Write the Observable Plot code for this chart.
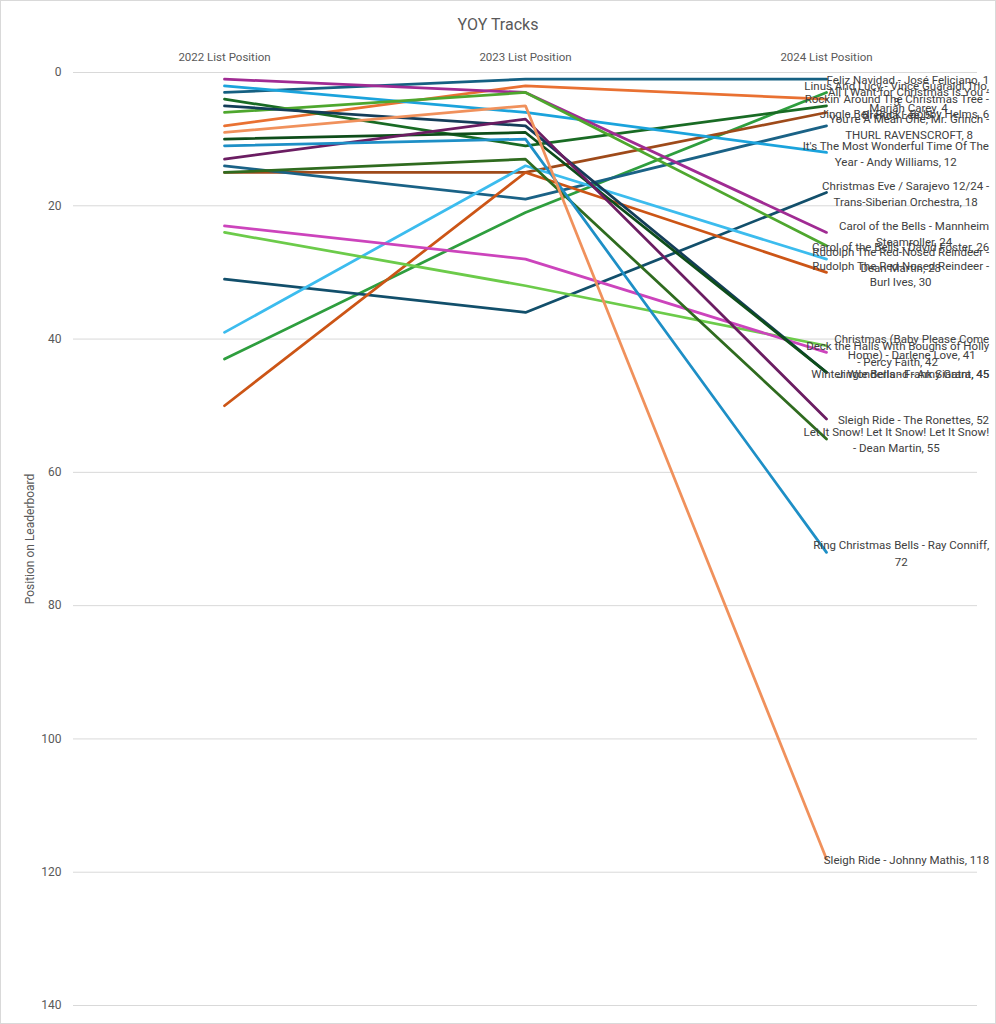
<!DOCTYPE html>
<html>
<head>
<meta charset="utf-8">
<script src="https://cdn.jsdelivr.net/npm/d3@7"></script>
<script src="https://cdn.jsdelivr.net/npm/@observablehq/plot@0.6"></script>
<style>
  body { margin: 0; background: #fff; font-family: Roboto, "Noto Sans", sans-serif; }
  #wrap { position: relative; width: 996px; height: 1024px; overflow: hidden; background: #fff; }
  #frame { position: absolute; left: 0; top: 0; width: 996px; height: 1024px; box-sizing: border-box; border: 1px solid #d9d9d9; pointer-events: none; }
  #title { height: 40px; box-sizing: border-box; padding-top: 14px; line-height: 22px; text-align: center; font-size: 16px; color: #595959; }
</style>
</head>
<body>
<div id="wrap">
  <div id="title">YOY Tracks</div>
  <div id="chart"></div>
  <div id="frame"></div>
</div>
<script>
const years = ["2022", "2023", "2024"];
const yTicks = [0, 20, 40, 60, 80, 100, 120, 140];

const songs = [
  "Feliz Navidad - José Feliciano",
  "Linus And Lucy - Vince Guaraldi Trio",
  "All I Want for Christmas Is You -\nMariah Carey",
  "Rockin' Around The Christmas Tree -\nBrenda Lee",
  "Jingle Bell Rock - Bobby Helms",
  "You're A Mean One, Mr. Grinch -\nTHURL RAVENSCROFT",
  "It's The Most Wonderful Time Of The\nYear - Andy Williams",
  "Christmas Eve / Sarajevo 12/24 -\nTrans-Siberian Orchestra",
  "Carol of the Bells - Mannheim\nSteamroller",
  "Carol of the Bells - David Foster",
  "Rudolph The Red-Nosed Reindeer -\nDean Martin",
  "Rudolph The Red-Nosed Reindeer -\nBurl Ives",
  "Christmas (Baby Please Come\nHome) - Darlene Love",
  "Deck the Halls With Boughs of Holly\n- Percy Faith",
  "Winter Wonderland - Amy Grant",
  "Jingle Bells - Frank Sinatra",
  "Sleigh Ride - The Ronettes",
  "Let It Snow! Let It Snow! Let It Snow!\n- Dean Martin",
  "Ring Christmas Bells - Ray Conniff",
  "Sleigh Ride - Johnny Mathis"
];
// songs whose value wraps onto its own line in the label
const valueOnNewLine = ["Linus And Lucy - Vince Guaraldi Trio", "Ring Christmas Bells - Ray Conniff"];

const pos2022 = [3, 43, 8, 4, 15, 14, 2, 31, 1, 6, 39, 50, 24, 23, 5, 10, 13, 15, 11, 9];
const pos2023 = [1, 21, 2, 11, 15, 19, 6, 36, 3, 3, 14, 15, 32, 28, 8, 9, 7, 13, 10, 5];
const pos2024 = [1, 3, 4, 5, 6, 8, 12, 18, 24, 26, 28, 30, 41, 42, 45, 45, 52, 55, 72, 118];

const colors = [
  "#156082", "#2e9e3e", "#e97132", "#196b24", "#9e4a1a",
  "#1a6286", "#1ba3dc", "#124f6b", "#a02b93", "#4ea72e",
  "#3cbcee", "#cc5516", "#6ccb4a", "#cc44bc", "#143d59",
  "#0e4d1a", "#6b1d62", "#2f6b1f", "#1e8fc6", "#f0915c"
];

const rows = [];
songs.forEach((s, i) => {
  [pos2022, pos2023, pos2024].forEach((arr, j) => {
    rows.push({ song: s, year: years[j], pos: arr[i], color: colors[i] });
  });
});

const labelFont = 11.5;
const ctx = document.createElement("canvas").getContext("2d");
ctx.font = `${labelFont}px Roboto`;

const W = 996, mL = 73, mR = 19;
const x2024 = mL + (W - mL - mR) * 5 / 6;  // centre of the last category band
const rightEdge = 989;

const endLabels = songs.map((s, i) => {
  const label = s + "," + (valueOnNewLine.includes(s) ? "\n" : " ") + pos2024[i];
  const wMax = Math.max(...label.split("\n").map(t => ctx.measureText(t).width));
  return { song: s, year: years[2], pos: pos2024[i], label, dx: rightEdge - wMax / 2 - x2024 };
});

const chart = Plot.plot({
  width: W,
  height: 984,
  marginTop: 32,
  marginBottom: 19,
  marginLeft: mL,
  marginRight: mR,
  style: { fontFamily: "Roboto, 'Noto Sans', sans-serif", fontSize: "11px", color: "#595959", background: "transparent", overflow: "visible" },
  x: { type: "point", domain: years, padding: 0.5 },
  y: { domain: [0, 140], reverse: true },
  color: { type: "identity" },
  marks: [
    Plot.gridY(yTicks, { stroke: "#d9d9d9", strokeOpacity: 1 }),
    Plot.axisY(yTicks, {
      tickSize: 0, tickPadding: 12, fontSize: 12,
      label: "Position on Leaderboard", labelAnchor: "center", labelOffset: 48, labelArrow: "none"
    }),
    Plot.axisX({
      anchor: "top", tickSize: 0, tickPadding: 12, fontSize: 11.5,
      tickFormat: d => `${d} List Position`, label: null
    }),
    Plot.line(rows, { x: "year", y: "pos", z: "song", stroke: "color", strokeWidth: 2.75, strokeLinejoin: "miter" }),
    ...endLabels.map(d => Plot.text([d], {
      x: "year", y: "pos", text: "label", dx: d.dx, textAnchor: "middle",
      lineHeight: 1.4, fill: "#404040", fontSize: labelFont
    }))
  ]
});
document.getElementById("chart").appendChild(chart);
</script>
</body>
</html>
